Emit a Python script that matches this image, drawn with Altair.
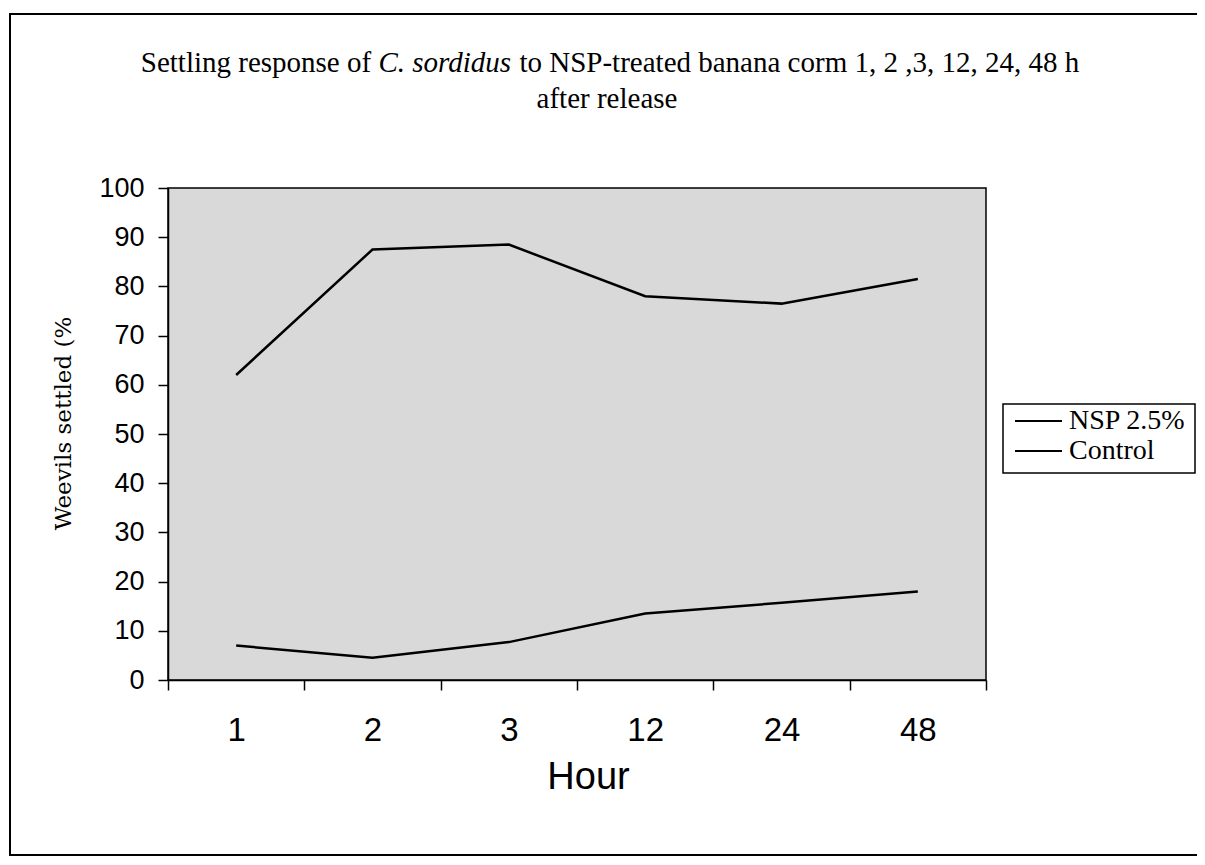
import altair as alt
import pandas as pd

hours = ["1", "2", "3", "12", "24", "48"]
nsp = [62, 87.5, 88.5, 78, 76.5, 81.5]
control = [7, 4.5, 7.7, 13.5, 15.7, 18]
series_names = ["NSP 2.5%", "Control"]
legend_rows = [0, 1]
y_ticks = [0, 10, 20, 30, 40, 50, 60, 70, 80, 90, 100]

title_part1 = "Settling response of"
title_italic = "C. sordidus"
title_part3 = "to NSP-treated banana corm 1, 2 ,3, 12, 24, 48 h"
title_line2 = "after release"

rows = []
for h, v in zip(hours, nsp):
    rows.append({"Hour": h, "value": v, "series": series_names[0]})
for h, v in zip(hours, control):
    rows.append({"Hour": h, "value": v, "series": series_names[1]})
df = pd.DataFrame(rows)
leg_df = pd.DataFrame({"series": series_names, "row": legend_rows})

W, H = 818, 492
PL, PT = 160, 180
TOTAL_W, TOTAL_H = 1189, 849

lines = alt.Chart(df).mark_line(strokeWidth=2.5, color="black").encode(
    x=alt.X("Hour:N", sort=hours,
            scale=alt.Scale(type="band", paddingInner=0, paddingOuter=0),
            axis=alt.Axis(title="Hour", labelAngle=0, tickBand="extent",
                          labelFont="Liberation Sans", labelFontSize=33,
                          labelColor="black", labelPadding=24,
                          tickSize=10, tickColor="black", tickWidth=1.5,
                          domainColor="black", domainWidth=1.5,
                          titleFont="Liberation Sans", titleFontSize=38,
                          titleFontWeight="normal", titleColor="black",
                          titleX=420, titleY=108, titleBaseline="alphabetic",
                          titleAlign="center")),
    y=alt.Y("value:Q", scale=alt.Scale(domain=[0, 100], nice=False),
            axis=alt.Axis(title="Weevils settled (%", values=y_ticks,
                          grid=False, labelFont="Liberation Sans",
                          labelFontSize=27, labelColor="black",
                          labelPadding=14, tickSize=10, tickColor="black",
                          tickWidth=1.5, domainColor="black", domainWidth=1.5,
                          titleFont="DejaVu Serif", titleFontSize=23,
                          titleFontWeight="normal", titleColor="black",
                          titleX=-105, titleY=235, titleAngle=-90,
                          titleAlign="center", titleBaseline="middle")),
    detail=alt.Detail("series:N"),
)

one = alt.Data(values=[{"k": 1}])

def txt(s, x, y, align="left", style="normal", size=29):
    return alt.Chart(one).mark_text(font="Liberation Serif", fontSize=size,
                                    align=align, fontStyle=style,
                                    baseline="alphabetic", color="black").encode(
        x=alt.value(x), y=alt.value(y), text=alt.value(s))

sp = 0.25 * 29
t1 = txt(title_part1, 210.4 - sp, -116, align="right")
t2 = txt(title_italic, 210.4, -116, style="italic")
t3 = txt(title_part3, 344.2 + sp, -116)
t4 = txt(title_line2, 439, -80, align="center")

frame = alt.Chart(one).mark_rect(fill="white", fillOpacity=0, stroke="black",
                                 strokeWidth=2).encode(
    x=alt.value(-158), x2=alt.value(1045), y=alt.value(-174), y2=alt.value(667))

# legend
leg_scale = alt.Scale(domain=[0, 1], range=[233, 263])
leg_box = alt.Chart(one).mark_rect(fill="white", stroke="black",
                                   strokeWidth=1.5).encode(
    x=alt.value(835), x2=alt.value(1027), y=alt.value(216), y2=alt.value(285))
leg_lines = alt.Chart(leg_df).mark_rule(color="black", strokeWidth=2).encode(
    x=alt.value(847), x2=alt.value(894),
    y=alt.Y("row:Q", scale=leg_scale, axis=None))
leg_text = alt.Chart(leg_df).mark_text(
    font="Liberation Serif", fontSize=28, align="left", baseline="middle",
    color="black").encode(
    x=alt.value(901),
    y=alt.Y("row:Q", scale=leg_scale, axis=None),
    text="series:N")

chart = alt.layer(frame, lines, leg_box, leg_lines, leg_text, t1, t2, t3, t4
).resolve_scale(y="independent").properties(
    width=W, height=H,
    background="white",
    autosize=alt.AutoSizeParams(type="none"),
    padding={"left": PL, "top": PT, "right": TOTAL_W - PL - W,
             "bottom": TOTAL_H - PT - H},
).configure_view(fill="#d9d9d9", stroke="black", strokeWidth=1.5)

chart.save("out.html", embed_options={"renderer": "svg", "actions": False})
